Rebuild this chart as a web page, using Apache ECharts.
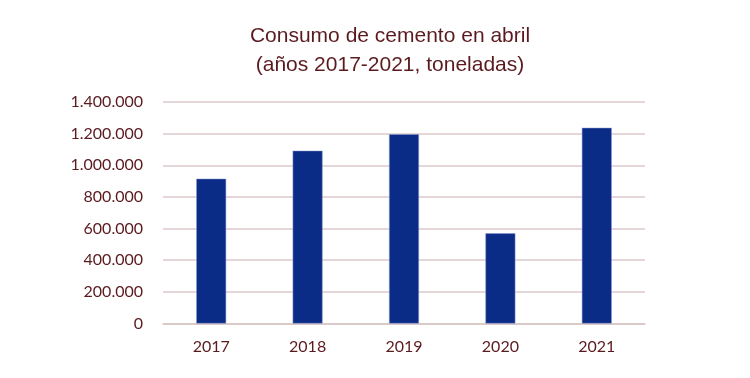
<!DOCTYPE html>
<html><head><meta charset="utf-8">
<script src="https://cdn.jsdelivr.net/npm/echarts@6/dist/echarts.min.js"></script>
<style>html,body{margin:0;padding:0;background:#fff}#c{width:750px;height:378px}</style>
</head><body><div id="c"></div>
<script>
var categories = ['2017','2018','2019','2020','2021'];
var values = [915000, 1092000, 1196000, 570000, 1237000];
var titleLines = ['Consumo de cemento en abril', '(años 2017-2021, toneladas)'];

function fmt(v){ return String(v).replace(/\B(?=(\d{3})+(?!\d))/g, '.'); }

var chart = echarts.init(document.getElementById('c'));
chart.setOption({
  animation: false,
  title: {
    text: titleLines.join('\n'),
    left: 385, top: 17, textAlign: 'center',
    textStyle: { fontFamily: 'Liberation Sans', fontSize: 21, fontWeight: 'normal', color: '#5a1a1e', lineHeight: 29 }
  },
  grid: { left: 163, right: 105, top: 102, bottom: 54.5 },
  xAxis: {
    type: 'category', data: categories,
    axisLine: { lineStyle: { color: '#d8c6c6', width: 1.5 } },
    axisTick: { show: false },
    axisLabel: { fontFamily: 'Lato', fontSize: 16, color: '#5a1a1e', margin: 15 }
  },
  yAxis: {
    type: 'value', min: 0, max: 1400000, interval: 200000,
    axisLine: { show: false }, axisTick: { show: false },
    splitLine: { lineStyle: { color: '#dccaca', width: 1.5 } },
    axisLabel: { fontFamily: 'Lato', fontSize: 16, color: '#5a1a1e', margin: 20, formatter: fmt }
  },
  series: [{
    type: 'bar', data: values, barWidth: '31%',
    itemStyle: { color: '#0b2c86', borderColor: '#8a96d0', borderWidth: 0.5 }
  }]
});
</script></body></html>
